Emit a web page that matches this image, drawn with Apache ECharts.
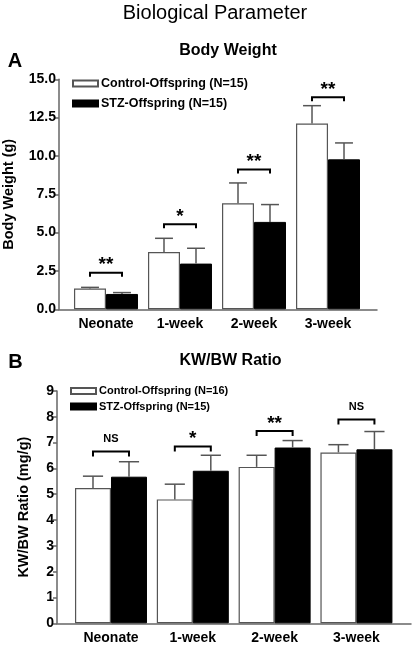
<!DOCTYPE html>
<html>
<head>
<meta charset="utf-8">
<script src="https://cdn.jsdelivr.net/npm/echarts@6/dist/echarts.min.js"></script>
<style>
html,body{margin:0;padding:0;background:#fff;}
#chart{width:412px;height:648px;}
</style>
</head>
<body>
<div id="chart"></div>
<script>
// ---- data ----
const categories = ['Neonate', '1-week', '2-week', '3-week'];

// Panel A: Body Weight (g)
const bwControlName = 'Control-Offspring (N=15)';
const bwStzName = 'STZ-Offspring (N=15)';
const bwControl = [1.35, 3.74, 6.91, 12.11];
const bwControlSD = [0.08, 0.89, 1.33, 1.17];
const bwStz = [1.00, 2.98, 5.70, 9.78];
const bwStzSD = [0.09, 1.00, 1.13, 1.07];
const bwSigY = [2.39, 5.54, 9.11, 13.83];
const bwSigLabel = ['**', '*', '**', '**'];
const bwTicks = [0, 15, 2.5]; // min, max, step

// Panel B: KW/BW Ratio (mg/g)
const kwControlName = 'Control-Offspring (N=16)';
const kwStzName = 'STZ-Offspring (N=15)';
const kwControl = [5.24, 4.80, 6.06, 6.62];
const kwControlSD = [0.46, 0.59, 0.45, 0.30];
const kwStz = [5.68, 5.91, 6.81, 6.74];
const kwStzSD = [0.58, 0.60, 0.27, 0.69];
const kwSigY = [6.66, 6.85, 7.45, 7.90];
const kwSigLabel = ['NS', '*', '**', 'NS'];
const kwTicks = [0, 9, 1];

// ---- styling ----
const FONT = '"Liberation Sans", Arial, Helvetica, sans-serif';
const AXIS_COLOR = '#666';

function errRender(barW) {
  return function (params, api) {
    const x = api.value(0), m = api.value(1), sd = api.value(2), side = api.value(3);
    const base = api.coord([x, m]);
    const top = api.coord([x, m + sd]);
    const cx = base[0] + side * barW / 2;
    const half = barW * 0.28;
    const st = { stroke: '#555', lineWidth: 1.5 };
    return {
      type: 'group',
      children: [
        { type: 'line', shape: { x1: cx, y1: base[1], x2: cx, y2: top[1] }, style: st },
        { type: 'line', shape: { x1: cx - half, y1: top[1], x2: cx + half, y2: top[1] }, style: st }
      ]
    };
  };
}

function sigRender(barW, labels, tick) {
  return function (params, api) {
    const x = api.value(0), y = api.value(1);
    const p = api.coord([x, y]);
    const l = p[0] - barW / 2, r = p[0] + barW / 2;
    const lab = labels[params.dataIndex];
    const isNS = lab === 'NS';
    return {
      type: 'group',
      children: [
        { type: 'polyline', shape: { points: [[l, p[1] + tick], [l, p[1]], [r, p[1]], [r, p[1] + tick]] },
          style: { stroke: '#000', lineWidth: 2, fill: null } },
        { type: 'text', style: {
            text: lab, x: p[0], y: p[1] - (isNS ? 12.5 : 7.5),
            align: 'center', verticalAlign: 'middle',
            fontFamily: FONT, fontWeight: 'bold', fontSize: isNS ? 11 : 19, fill: '#000' } }
      ]
    };
  };
}

function xAxisCfg(gridIndex, min, max) {
  return {
    type: 'value', gridIndex, min, max,
    axisLine: { show: true, onZero: false, lineStyle: { color: AXIS_COLOR, width: 1.5 } },
    axisTick: { show: false },
    splitLine: { show: false },
    axisLabel: {
      showMinLabel: false, showMaxLabel: false, margin: 8,
      fontFamily: FONT, fontWeight: 'bold', fontSize: 14, color: '#000',
      formatter: v => (Number.isInteger(v) && categories[v] !== undefined) ? categories[v] : ''
    }
  };
}

// hidden helper x axis whose zero is the grid's left edge, so the y axis line sits there
function helperXAxis(gridIndex) {
  return { type: 'value', gridIndex, min: 0, max: 1, show: false };
}

function yAxisCfg(gridIndex, helperIndex, ticks, name, nameGap, fmt) {
  return {
    type: 'value', gridIndex, min: ticks[0], max: ticks[1], interval: ticks[2],
    name, nameLocation: 'middle', nameGap, nameRotate: 90,
    nameTextStyle: { fontFamily: FONT, fontWeight: 'bold', fontSize: 14.5, color: '#000' },
    axisLine: { show: true, onZero: true, onZeroAxisIndex: helperIndex, lineStyle: { color: AXIS_COLOR, width: 1.5 } },
    axisTick: { show: true, inside: false, length: 4, lineStyle: { color: AXIS_COLOR, width: 1.5 } },
    splitLine: { show: false },
    axisLabel: { margin: 3, fontFamily: FONT, fontWeight: 'bold', fontSize: 14, color: '#000', formatter: fmt }
  };
}

const ctrlStyle = { color: '#fff', borderColor: '#555', borderWidth: 1.2 };
const stzStyle = { color: '#000', borderColor: '#000', borderWidth: 1 };

const chart = echarts.init(document.getElementById('chart'), null, { renderer: 'canvas' });
const option = {
  animation: false,
  backgroundColor: '#fff',
  graphic: [
    { type: 'text', style: { text: 'Biological Parameter', x: 215, y: 13, align: 'center', verticalAlign: 'middle', fontFamily: FONT, fontSize: 20, fill: '#000' } },
    { type: 'text', style: { text: 'Body Weight', x: 228, y: 51, align: 'center', verticalAlign: 'middle', fontFamily: FONT, fontWeight: 'bold', fontSize: 16, fill: '#000' } },
    { type: 'text', style: { text: 'A', x: 15, y: 61, align: 'center', verticalAlign: 'middle', fontFamily: FONT, fontWeight: 'bold', fontSize: 20, fill: '#000' } },
    { type: 'text', style: { text: 'KW/BW Ratio', x: 230.5, y: 361, align: 'center', verticalAlign: 'middle', fontFamily: FONT, fontWeight: 'bold', fontSize: 16, fill: '#000' } },
    { type: 'text', style: { text: 'B', x: 15.5, y: 362, align: 'center', verticalAlign: 'middle', fontFamily: FONT, fontWeight: 'bold', fontSize: 20, fill: '#000' } }
  ],
  legend: [
    { orient: 'vertical', left: 72, top: 77, padding: 0, itemWidth: 25, itemHeight: 6, itemGap: 7,
      icon: 'rect', selectedMode: false,
      textStyle: { fontFamily: FONT, fontWeight: 'bold', fontSize: 12.5, color: '#000', padding: [0, 0, 0, -2] },
      data: [bwControlName, bwStzName] },
    { orient: 'vertical', left: 70, top: 385.5, padding: 0, itemWidth: 25, itemHeight: 6, itemGap: 4.5,
      icon: 'rect', selectedMode: false,
      textStyle: { fontFamily: FONT, fontWeight: 'bold', fontSize: 11, color: '#000', padding: [0, 0, 0, -2] },
      data: [kwControlName, kwStzName + ' '] }
  ],
  grid: [
    { left: 59, right: 35, top: 79.3, bottom: 648 - 309.3, containLabel: false, outerBoundsMode: 'none' },
    { left: 57, right: 1, top: 391, bottom: 648 - 623.3, containLabel: false, outerBoundsMode: 'none' }
  ],
  xAxis: [
    xAxisCfg(0, -0.635, 3.662),
    xAxisCfg(1, -0.66, 3.667),
    helperXAxis(0),
    helperXAxis(1)
  ],
  yAxis: [
    yAxisCfg(0, 2, bwTicks, 'Body Weight (g)', 43, v => v.toFixed(1)),
    yAxisCfg(1, 3, kwTicks, 'KW/BW Ratio (mg/g)', 26, v => String(v))
  ],
  series: [
    { type: 'bar', name: bwControlName, xAxisIndex: 0, yAxisIndex: 0, barWidth: 32, barGap: '0%',
      itemStyle: ctrlStyle, data: bwControl.map((v, i) => [i, v]) },
    { type: 'bar', name: bwStzName, xAxisIndex: 0, yAxisIndex: 0, barWidth: 32, barGap: '0%',
      itemStyle: stzStyle, data: bwStz.map((v, i) => [i, v]) },
    { type: 'custom', xAxisIndex: 0, yAxisIndex: 0, z: 5, renderItem: errRender(32),
      data: bwControl.map((v, i) => [i, v, bwControlSD[i], -1]).concat(bwStz.map((v, i) => [i, v, bwStzSD[i], 1])) },
    { type: 'custom', xAxisIndex: 0, yAxisIndex: 0, z: 5, renderItem: sigRender(32, bwSigLabel, 4),
      data: bwSigY.map((v, i) => [i, v]) },

    { type: 'bar', name: kwControlName, xAxisIndex: 1, yAxisIndex: 1, barWidth: 36, barGap: '0%',
      itemStyle: ctrlStyle, data: kwControl.map((v, i) => [i, v]) },
    { type: 'bar', name: kwStzName + ' ', xAxisIndex: 1, yAxisIndex: 1, barWidth: 36, barGap: '0%',
      itemStyle: stzStyle, data: kwStz.map((v, i) => [i, v]) },
    { type: 'custom', xAxisIndex: 1, yAxisIndex: 1, z: 5, renderItem: errRender(36),
      data: kwControl.map((v, i) => [i, v, kwControlSD[i], -1]).concat(kwStz.map((v, i) => [i, v, kwStzSD[i], 1])) },
    { type: 'custom', xAxisIndex: 1, yAxisIndex: 1, z: 5, renderItem: sigRender(36, kwSigLabel, 5),
      data: kwSigY.map((v, i) => [i, v]) }
  ]
};
chart.setOption(option);
</script>
</body>
</html>
